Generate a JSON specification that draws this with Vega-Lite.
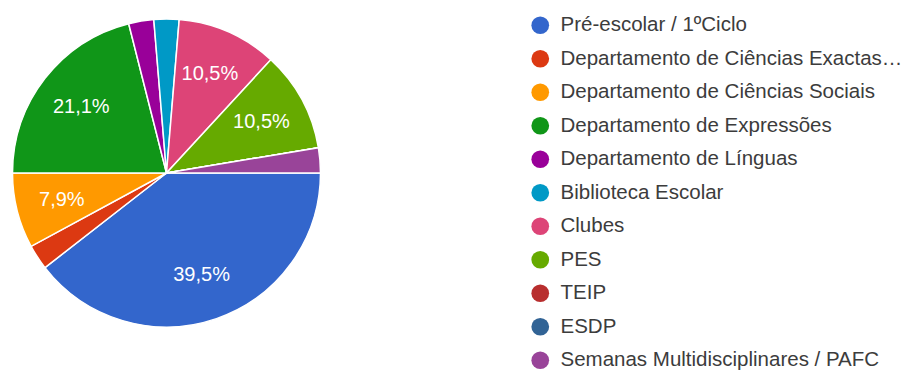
{
  "$schema": "https://vega.github.io/schema/vega-lite/v6.json",
  "autosize": {"type": "none"},
  "padding": {"left": 0, "top": 0, "right": 571, "bottom": 30},
  "width": 333,
  "height": 346,
  "background": "white",
  "config": {"view": {"stroke": null}, "font": "Liberation Sans"},
  "data": {
    "values": [
      {"order": 1, "name": "Pré-escolar / 1ºCiclo", "value": 15, "label": "39,5%"},
      {"order": 2, "name": "Departamento de Ciências Exactas…", "value": 1, "label": ""},
      {"order": 3, "name": "Departamento de Ciências Sociais", "value": 3, "label": "7,9%"},
      {"order": 4, "name": "Departamento de Expressões", "value": 8, "label": "21,1%"},
      {"order": 5, "name": "Departamento de Línguas", "value": 1, "label": ""},
      {"order": 6, "name": "Biblioteca Escolar", "value": 1, "label": ""},
      {"order": 7, "name": "Clubes", "value": 4, "label": "10,5%"},
      {"order": 8, "name": "PES", "value": 4, "label": "10,5%"},
      {"order": 9, "name": "TEIP", "value": 0, "label": ""},
      {"order": 10, "name": "ESDP", "value": 0, "label": ""},
      {"order": 11, "name": "Semanas Multidisciplinares / PAFC", "value": 1, "label": ""}
    ]
  },
  "encoding": {
    "theta": {"field": "value", "type": "quantitative", "stack": true, "scale": {"range": [1.5707963, 7.8539816]}},
    "order": {"field": "order", "type": "quantitative"}
  },
  "layer": [
    {
      "mark": {"type": "arc", "outerRadius": 154, "stroke": "white", "strokeWidth": 1.5},
      "encoding": {
        "color": {
          "field": "name",
          "type": "nominal",
          "scale": {
            "domain": ["Pré-escolar / 1ºCiclo", "Departamento de Ciências Exactas…", "Departamento de Ciências Sociais", "Departamento de Expressões", "Departamento de Línguas", "Biblioteca Escolar", "Clubes", "PES", "TEIP", "ESDP", "Semanas Multidisciplinares / PAFC"],
            "range": ["#3366cc", "#dc3912", "#ff9900", "#109618", "#990099", "#0099c6", "#dd4477", "#66aa00", "#b82e2e", "#316395", "#994499"]
          },
          "legend": {
            "title": null,
            "orient": "none",
            "legendX": 530,
            "legendY": 15,
            "symbolType": "circle",
            "symbolSize": 314,
            "symbolStrokeWidth": 0,
            "labelFontSize": 20.5,
            "labelColor": "#3c3c3c",
            "rowPadding": 12.5,
            "labelOffset": 10,
            "labelLimit": 400
          }
        }
      }
    },
    {
      "mark": {"type": "text", "radius": 108, "fontSize": 20, "fill": "white"},
      "encoding": {
        "text": {"field": "label"},
        "detail": {"field": "name"}
      }
    }
  ]
}
